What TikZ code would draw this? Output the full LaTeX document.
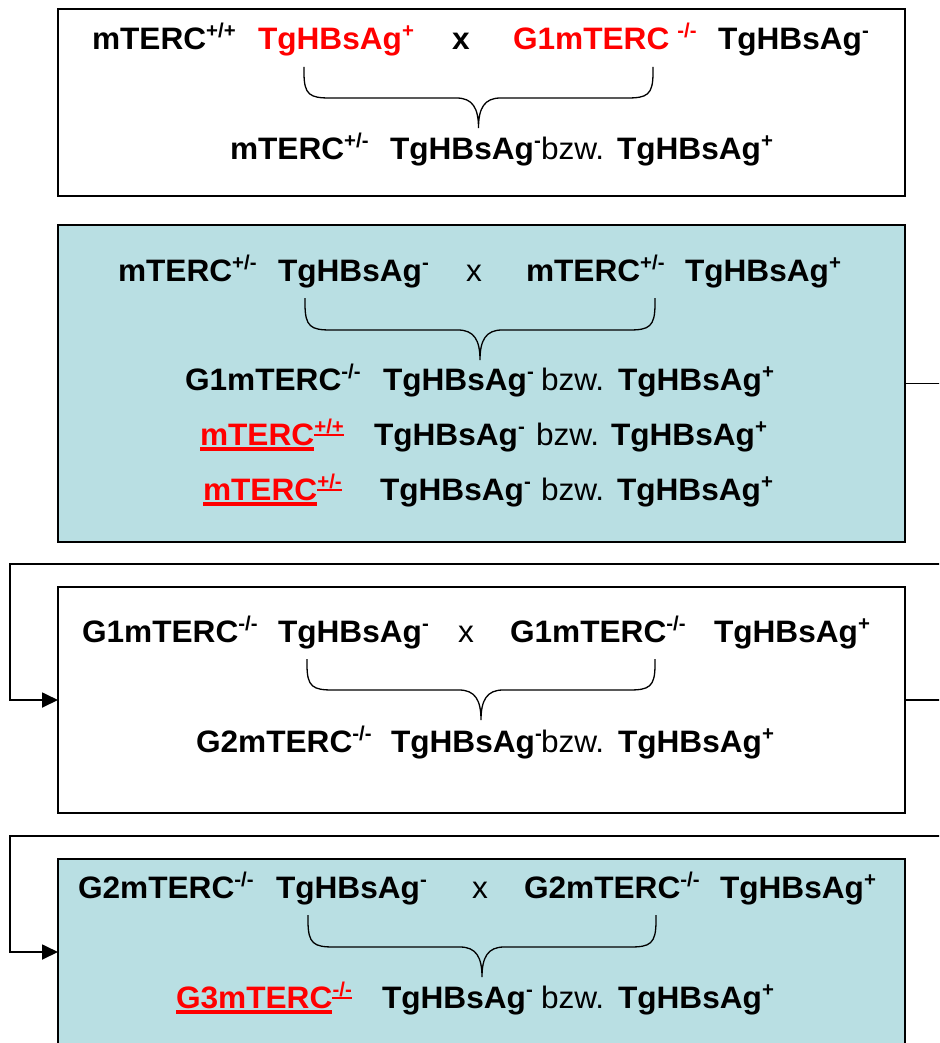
\documentclass[tikz,border=0pt]{standalone}
\usepackage{fontspec}
\setmainfont{Liberation Sans}[FakeStretch=1.02]
\usetikzlibrary{arrows.meta}
\definecolor{tealfill}{RGB}{185,223,227}
\definecolor{myred}{RGB}{255,0,0}
\newcommand\supx[1]{\raisebox{12pt}{\fontsize{20}{20}\selectfont #1}}
\newcommand\gbrace[5]{%
  \pgfmathsetmacro\xc{(#1+#2)/2}%
  \draw[brc] (#1,#3) -- (#1,#3+6) .. controls (#1,#4-3) and (#1+6,#4) .. (#1+26,#4)
    -- (\xc-22,#4) .. controls (\xc-6,#4) and (\xc,#4+10) .. (\xc,#5)
    .. controls (\xc,#4+10) and (\xc+6,#4) .. (\xc+22,#4)
    -- (#2-26,#4) .. controls (#2-6,#4) and (#2,#4-3) .. (#2,#3+6) -- (#2,#3);
}
\newcommand\ulgeno[5]{%
  \node[tb,text=myred] (#1) at (#2,#3) {#4};
  \node[anchor=base west,inner sep=0pt,text=myred,font=\fontsize{20}{20}\selectfont\bfseries] (#1s) at ([yshift=12pt]#1.base east) {#5};
  \draw[myred,line width=3.5pt] ([yshift=-4pt]#1.base west) -- ([yshift=-4pt]#1.base east);
  \draw[myred,line width=2.2pt] ([yshift=-1.8pt]#1s.base west) -- ([yshift=-1.8pt]#1s.base east);
}
\begin{document}
\begin{tikzpicture}[x=1pt,y=-1pt,
  box/.style={draw=black,line width=1.6pt,rectangle,inner sep=0pt,outer sep=0pt,minimum width=847pt},
  conn/.style={draw=black,line width=1.8pt},
  brc/.style={draw=black,line width=1.3pt},
  tb/.style={anchor=base west,inner sep=0pt,outer sep=0pt,font=\fontsize{31}{37}\selectfont\bfseries},
  tn/.style={anchor=base west,inner sep=0pt,outer sep=0pt,font=\fontsize{31}{37}\selectfont}]
\useasboundingbox (0,0) rectangle (939,1043);
\clip (0,0) rectangle (939,1043);

% boxes
\node[box,fill=white,minimum height=187pt] (b1) at (481.5,102.5) {};
\node[box,fill=tealfill,minimum height=317pt] (b2) at (481.5,383.5) {};
\node[box,fill=white,minimum height=226pt] (b3) at (481.5,700) {};
\node[box,fill=tealfill,minimum height=186pt] (b4) at (481.5,952) {};

% connectors
\coordinate (e2) at (942,383.5);
\coordinate (t3r) at (942,564);
\coordinate (t3l) at (10,564);
\coordinate (e3) at (942,700);
\coordinate (t4r) at (942,836);
\coordinate (t4l) at (10,836);
\draw[conn] (b2.east) -- (e2);
\draw[conn,-{Triangle[length=16pt,width=15pt]}] (t3r) -- (t3l) |- (b3.west);
\draw[conn] (b3.east) -- (e3);
\draw[conn,-{Triangle[length=16pt,width=15pt]}] (t4r) -- (t4l) |- (b4.west);

% box 1
\node[tb] (a1) at (92,50) {mTERC\supx{+/+}};
\node[tb,text=myred] (a2) at (258,50) {TgHBsAg\supx{+}};
\node[tb] (a3) at (452,50) {x};
\node[tb,text=myred] (a4) at (513,50) {G1mTERC\hspace{8pt}\supx{-/-}};
\node[tb] (a5) at (718,50) {TgHBsAg\supx{-}};
\gbrace{304}{653}{67}{98}{128}
\node[tb] (a6) at (230,160) {mTERC\supx{+/-}};
\node[tb] (a7) at (390,160) {TgHBsAg\supx{-}};
\node[tn] (a8) at (541,160) {bzw.};
\node[tb] (a9) at (617,160) {TgHBsAg\supx{+}};

% box 2
\node[tb] (c1) at (118,281) {mTERC\supx{+/-}};
\node[tb] (c2) at (278,281) {TgHBsAg\supx{-}};
\node[tn] (c3) at (466,281) {x};
\node[tb] (c4) at (526,281) {mTERC\supx{+/-}};
\node[tb] (c5) at (685,281) {TgHBsAg\supx{+}};
\gbrace{305}{655}{298}{330}{360}
\node[tb] (c6) at (185,390) {G1mTERC\supx{-/-}};
\node[tb] (c7) at (383,390) {TgHBsAg\supx{-}};
\node[tn] (c8) at (541,390) {bzw.};
\node[tb] (c9) at (618,390) {TgHBsAg\supx{+}};
\ulgeno{c10}{200}{445}{mTERC}{+/+}
\node[tb] (c11) at (374,445) {TgHBsAg\supx{-}};
\node[tn] (c12) at (536,445) {bzw.};
\node[tb] (c13) at (611,445) {TgHBsAg\supx{+}};
\ulgeno{c14}{203}{500}{mTERC}{+/-}
\node[tb] (c15) at (380,500) {TgHBsAg\supx{-}};
\node[tn] (c16) at (541,500) {bzw.};
\node[tb] (c17) at (617,500) {TgHBsAg\supx{+}};

% box 3
\node[tb] (d1) at (82,642) {G1mTERC\supx{-/-}};
\node[tb] (d2) at (278,642) {TgHBsAg\supx{-}};
\node[tn] (d3) at (458,642) {x};
\node[tb] (d4) at (510,642) {G1mTERC\supx{-/-}};
\node[tb] (d5) at (714,642) {TgHBsAg\supx{+}};
\gbrace{307}{655}{659}{690}{720}
\node[tb] (d6) at (196,752) {G2mTERC\supx{-/-}};
\node[tb] (d7) at (391,752) {TgHBsAg\supx{-}};
\node[tn] (d8) at (541,752) {bzw.};
\node[tb] (d9) at (618,752) {TgHBsAg\supx{+}};

% box 4
\node[tb] (f1) at (78,898) {G2mTERC\supx{-/-}};
\node[tb] (f2) at (276,898) {TgHBsAg\supx{-}};
\node[tn] (f3) at (472,898) {x};
\node[tb] (f4) at (524,898) {G2mTERC\supx{-/-}};
\node[tb] (f5) at (720,898) {TgHBsAg\supx{+}};
\gbrace{308}{656}{915}{947}{977}
\ulgeno{f6}{176}{1008}{G3mTERC}{-/-}
\node[tb] (f7) at (382,1008) {TgHBsAg\supx{-}};
\node[tn] (f8) at (541,1008) {bzw.};
\node[tb] (f9) at (618,1008) {TgHBsAg\supx{+}};
\end{tikzpicture}
\end{document}
